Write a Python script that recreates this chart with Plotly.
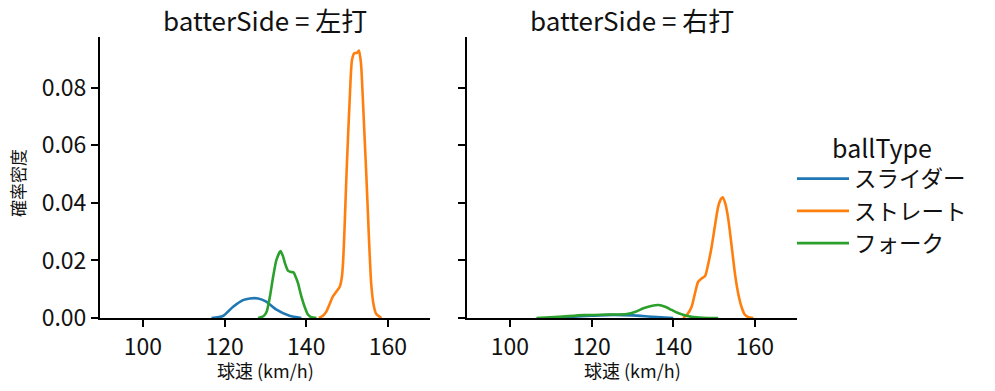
import plotly.graph_objects as go
from plotly.subplots import make_subplots

# ---- data ----
panels = ["左打", "右打"]
ball_types = ["スライダー", "ストレート", "フォーク"]
colors = ["#1f77b4", "#ff7f0e", "#2ca02c"]

slider_L_x = [116.8, 119.6, 122.1, 124.5, 126.2, 128.2, 130.2, 132.6, 135.9, 138.8]
slider_L_y = [0, 0.0007, 0.0039, 0.0062, 0.0068, 0.0068, 0.0057, 0.003, 0.0008, 0]

straight_L_x = [143.1, 144.1, 144.9, 145.7, 146.5, 147.4, 148.2, 148.7, 149.0, 149.4, 149.8, 150.2,
                150.6, 151.2, 151.8, 152.4, 152.9, 153.4, 153.8, 154.2, 154.7, 155.1, 155.5, 155.9,
                156.5, 157.1, 158.4]
straight_L_y = [0, 0.0008, 0.0022, 0.0048, 0.0074, 0.0092, 0.0109, 0.014, 0.019, 0.032, 0.048, 0.062,
                0.0747, 0.0897, 0.0921, 0.0922, 0.093, 0.0886, 0.078, 0.0654, 0.05, 0.0364, 0.023, 0.012,
                0.0045, 0.0015, 0]

fork_L_x = [128.2, 129.5, 130.3, 131.1, 131.9, 132.7, 133.7, 134.3, 134.8, 135.5, 136.3, 136.9,
            137.5, 138.0, 138.8, 139.6, 140.4, 141.2, 142.5]
fork_L_y = [0, 0.0006, 0.0022, 0.0074, 0.0144, 0.0202, 0.0233, 0.0215, 0.019, 0.0165, 0.016, 0.0158,
            0.014, 0.012, 0.0075, 0.0039, 0.0012, 0.0003, 0]

slider_R_x = [110.6, 115, 120, 125.3, 130, 135, 140]
slider_R_y = [0, 0.0004, 0.0008, 0.0011, 0.0009, 0.0004, 0]

straight_R_x = [142.4, 143.4, 144.5, 145.3, 146.1, 147.0, 147.8, 148.6, 149.4, 150.2, 151.0, 151.6,
                152.1, 152.8, 153.5, 154.3, 155.1, 155.9, 156.7, 157.5, 158.4, 159.6]
straight_R_y = [0, 0.0012, 0.0039, 0.0085, 0.0126, 0.0138, 0.0146, 0.019, 0.0248, 0.032, 0.0387, 0.0412,
                0.042, 0.0395, 0.0341, 0.025, 0.0155, 0.0085, 0.0039, 0.0012, 0.0003, 0]

fork_R_x = [106.5, 112, 118, 124, 128.6, 130.8, 132.7, 134.6, 136.4, 138.0, 139.6, 141.0, 142.4,
            144.5, 147.3, 151.0]
fork_R_y = [0, 0.0004, 0.001, 0.0012, 0.0014, 0.0022, 0.0034, 0.0042, 0.0045, 0.0039, 0.0028, 0.0018,
            0.0011, 0.0004, 0.0001, 0]

x_ticks = [100, 120, 140, 160]
y_ticks = [0.0, 0.02, 0.04, 0.06, 0.08]

series = {
    0: [(slider_L_x, slider_L_y), (straight_L_x, straight_L_y), (fork_L_x, fork_L_y)],
    1: [(slider_R_x, slider_R_y), (straight_R_x, straight_R_y), (fork_R_x, fork_R_y)],
}

FONT = "Noto Sans CJK JP"
W, H = 995, 391


def px(x):
    return x / W


def py(y):
    return (H - y) / H


fig = make_subplots(rows=1, cols=2, shared_yaxes=True)

for p in range(2):
    for i, (xs, ys) in enumerate(series[p]):
        fig.add_trace(go.Scatter(
            x=xs, y=ys, mode="lines", name=ball_types[i],
            line=dict(color=colors[i], width=2.6, shape="spline", smoothing=0.6),
            showlegend=(p == 0), legendgroup=ball_types[i], hoverinfo="skip"),
            row=1, col=p + 1)

doms = [[px(100), px(430)], [px(467), px(797)]]
ydom = [py(318), py(37)]

axis_common = dict(showgrid=False, zeroline=False, showline=True, linecolor="black", linewidth=2,
                   ticks="outside", ticklen=7, tickwidth=2, tickcolor="black", automargin=False,
                   tickfont=dict(family=FONT, size=23, color="#111"))

fig.update_xaxes(**axis_common, range=[89.5, 170.3], tickvals=x_ticks)
fig.update_yaxes(**axis_common, range=[0, 0.0977], tickvals=y_ticks, tickformat=".2f")
fig.update_layout(
    xaxis=dict(domain=doms[0]), xaxis2=dict(domain=doms[1]),
    yaxis=dict(domain=ydom), yaxis2=dict(domain=ydom, showticklabels=False),
)

annotations = []
for p in range(2):
    cx = (doms[p][0] + doms[p][1]) / 2
    annotations.append(dict(text=f"batterSide = {panels[p]}", x=cx, y=py(20), xref="paper", yref="paper",
                            showarrow=False, xanchor="center", yanchor="middle",
                            font=dict(family=FONT, size=26, color="#111")))
    annotations.append(dict(text="球速 (km/h)", x=cx, y=py(370), xref="paper", yref="paper",
                            showarrow=False, xanchor="center", yanchor="middle",
                            font=dict(family=FONT, size=18, color="#111")))
annotations.append(dict(text="確率密度", x=px(18), y=py(183), xref="paper", yref="paper",
                        showarrow=False, textangle=-90, xanchor="center", yanchor="middle",
                        font=dict(family=FONT, size=17, color="#111")))

fig.update_layout(
    width=W, height=H,
    margin=dict(l=0, r=0, t=0, b=0, autoexpand=False),
    paper_bgcolor="white", plot_bgcolor="white",
    annotations=annotations,
    showlegend=True,
    legend=dict(x=px(792), y=py(125), xanchor="left", yanchor="top",
                title=dict(text="ballType", font=dict(family=FONT, size=25, color="#111"), side="top center"),
                font=dict(family=FONT, size=22.5, color="#111"),
                bgcolor="rgba(0,0,0,0)", itemwidth=52, tracegroupgap=0),
)

fig.write_html("out.html", config={"displayModeBar": False},
               post_script="document.body.style.margin='0px';")
